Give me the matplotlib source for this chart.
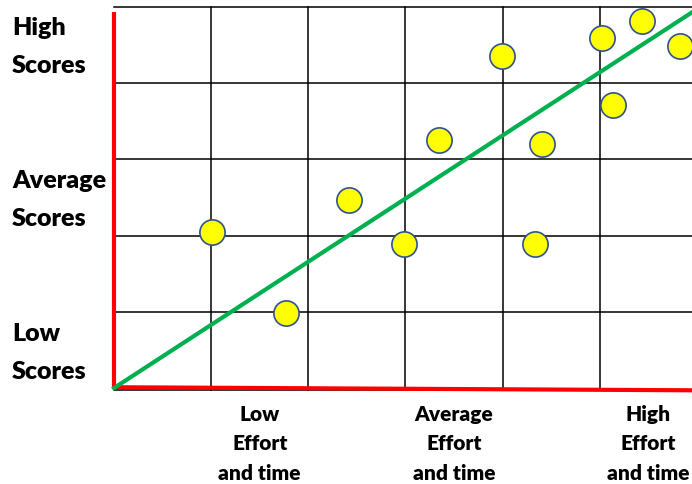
import matplotlib.pyplot as plt

# effort (grid cells along x) vs score (grid cells along y)
effort = [1.01, 1.77, 2.42, 2.99, 3.35, 3.99, 4.33, 4.41, 5.02, 5.14, 5.44, 5.83]
scores = [2.05, 0.98, 2.47, 1.89, 3.25, 4.36, 1.89, 3.20, 4.59, 3.71, 4.82, 4.49]

trend_x = [0, 5.95]
trend_y = [0, 4.93]

score_labels = [("High", "Scores"), ("Average", "Scores"), ("Low", "Scores")]
score_label_pos = [4.49, 2.48, 0.47]
effort_labels = [("Low", "Effort", "and time"), ("Average", "Effort", "and time"),
                 ("High", "Effort", "and time")]
effort_label_pos = [1.5, 3.5, 5.5]

plt.rcParams['font.family'] = ['Lato', 'DejaVu Sans']

fig = plt.figure(figsize=(6.92, 4.85), dpi=100)
ax = fig.add_axes([114 / 692, (485 - 389) / 485, 578 / 692, 381 / 485])
ax.set_xlim(0, 5.95)
ax.set_ylim(0, 5)
ax.axis('off')

# grid
for gx in range(1, 6):
    ax.plot([gx, gx], [-0.03, 5], color='black', lw=1.1, clip_on=False, zorder=1)
for gy in range(1, 6):
    ax.plot([0, 5.95], [gy, gy], color='black', lw=1.1, clip_on=False, zorder=1)
ax.plot([0, 5.95], [-0.03, -0.03], color='black', lw=1.1, clip_on=False, zorder=1)

# red axes
ax.plot([0, 0], [0, 4.93], color='#ff0000', lw=3, clip_on=False, zorder=2,
        solid_capstyle='butt')
ax.plot([0, 5.95], [0.01, -0.03], color='#ff0000', lw=3, clip_on=False, zorder=2,
        solid_capstyle='butt')

# trend line
ax.plot(trend_x, trend_y, color='#00b050', lw=3, clip_on=False, zorder=3)

ax.scatter(effort, scores, s=330, color='#ffff00', edgecolor='#2f528f',
           linewidth=1.2, zorder=4, clip_on=False)

for lines, yc in zip(score_labels, score_label_pos):
    for i, t in enumerate(lines):
        ax.text(-1.05, yc + 0.25 - i * 0.5, t, ha='left', va='center',
                fontsize=18, fontweight='heavy', clip_on=False)

for lines, xc in zip(effort_labels, effort_label_pos):
    for i, t in enumerate(lines):
        ax.text(xc, -0.33 - i * 0.39, t, ha='center', va='center',
                fontsize=15, fontweight='heavy', clip_on=False)

plt.savefig('out.png', dpi=100)
